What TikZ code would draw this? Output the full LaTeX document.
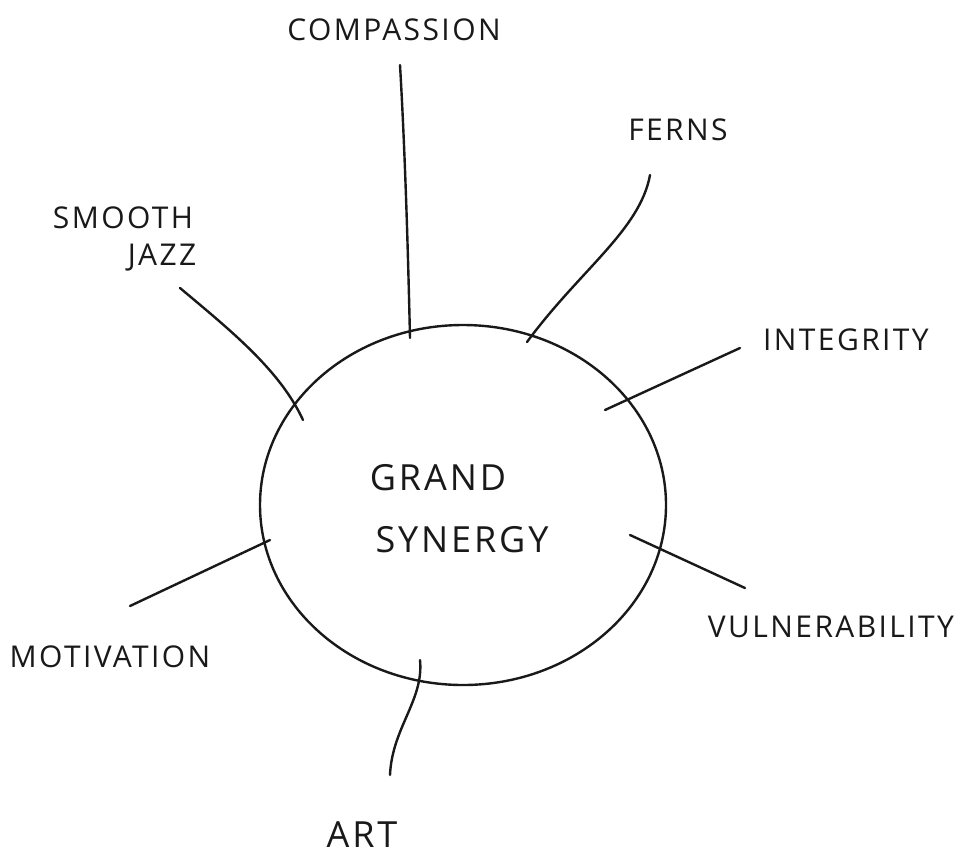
\documentclass[tikz,border=0pt]{standalone}
\usepackage{fontspec}
\setmainfont{Open Sans}[LetterSpace=8]
\usetikzlibrary{shapes.geometric}
\begin{document}
\begin{tikzpicture}[x=1pt,y=-1pt,
  ink/.style={line width=2.4pt,line cap=round,draw=black!90},
  lbl/.style={font=\fontsize{30}{32}\selectfont,inner sep=0pt,text=black!90},
  hub/.style={ellipse,draw=black!90,line width=2.4pt,minimum width=406pt,minimum height=360pt,inner sep=0pt}]
\useasboundingbox (0,0) rectangle (976,862);
% central idea
\node[hub] (hub) at (463,505) {};
\node[lbl,font=\fontsize{36}{38}\selectfont] (grand) at (438,478) {GRAND};
\node[lbl,font=\fontsize{36}{38}\selectfont] (syn) at (462,540) {SYNERGY};
% spokes: outer end, inner end
\coordinate (c1) at (400,65);  \coordinate (c2) at (410,338);
\coordinate (f1) at (650,175); \coordinate (f2) at (527,342);
\coordinate (i1) at (740,348); \coordinate (i2) at (605,410);
\coordinate (v1) at (745,588); \coordinate (v2) at (630,535);
\coordinate (a1) at (390,775); \coordinate (a2) at (420,660);
\coordinate (m1) at (130,606); \coordinate (m2) at (270,540);
\coordinate (s1) at (180,288); \coordinate (s2) at (303,420);
\draw[ink] (c1) .. controls (405,150) and (408,250) .. (c2);
\draw[ink] (f1) .. controls (640,230) and (580,270) .. (f2);
\draw[ink] (i1) -- (i2);
\draw[ink] (v1) -- (v2);
\draw[ink] (a1) .. controls (392,728) and (424,700) .. (a2);
\draw[ink] (m1) -- (m2);
\draw[ink] (s1) .. controls (230,330) and (280,370) .. (s2);
% labels
\node[lbl] (comp) at (394,30) {COMPASSION};
\node[lbl] (ferns) at (678,130) {FERNS};
\node[lbl] (smooth) at (123,218) {SMOOTH};
\node[lbl] (jazz) at (162,258) {JAZZ};
\node[lbl] (integ) at (846,340) {INTEGRITY};
\node[lbl] (vuln) at (831,627) {VULNERABILITY};
\node[lbl] (moti) at (110,657) {MOTIVATION};
\node[lbl,font=\fontsize{36}{38}\selectfont] (art) at (362,835) {ART};
\end{tikzpicture}
\end{document}
